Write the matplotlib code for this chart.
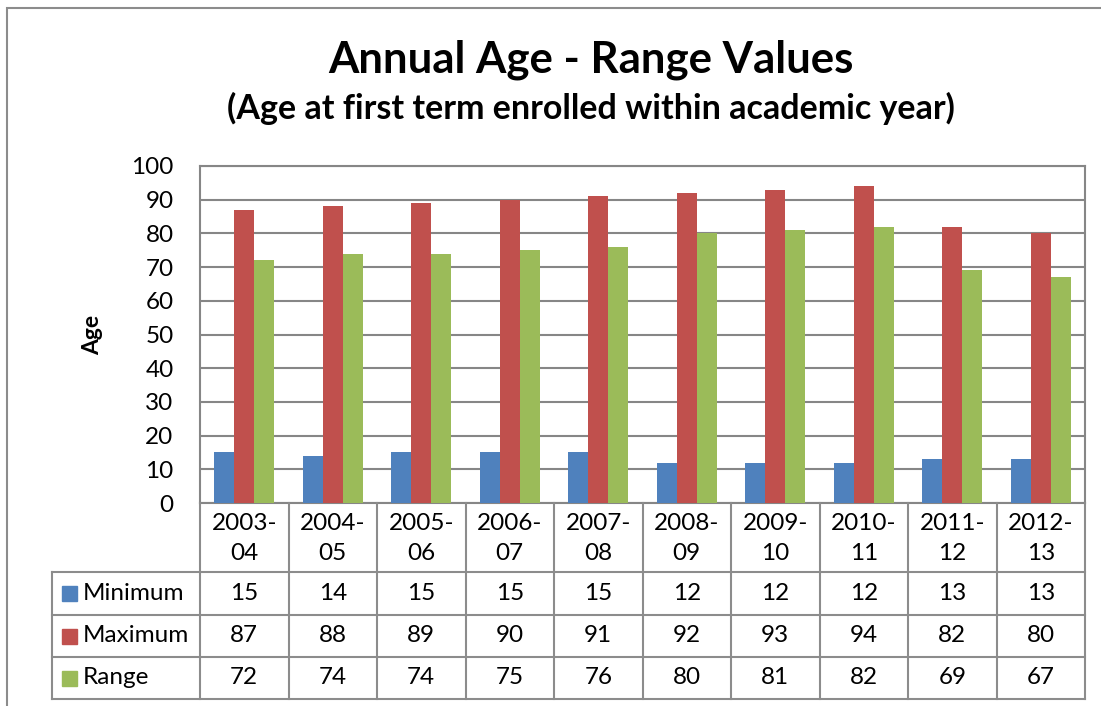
import matplotlib.pyplot as plt
from matplotlib.patches import Rectangle

# --- data ---
years = ['2003-\n04', '2004-\n05', '2005-\n06', '2006-\n07', '2007-\n08',
         '2008-\n09', '2009-\n10', '2010-\n11', '2011-\n12', '2012-\n13']
minimum = [15, 14, 15, 15, 15, 12, 12, 12, 13, 13]
maximum = [87, 88, 89, 90, 91, 92, 93, 94, 82, 80]
age_range = [72, 74, 74, 75, 76, 80, 81, 82, 69, 67]

series = [('Minimum', minimum, '#4F81BD'),
          ('Maximum', maximum, '#C0504D'),
          ('Range', age_range, '#9BBB59')]

W, H = 1101, 706
FONT = 'Lato'
GRID = '#868686'
FS = 17.5
plt.rcParams['font.family'] = [FONT, 'DejaVu Sans']

fig = plt.figure(figsize=(W / 100, H / 100), dpi=100)

def fx(px):
    return px / W

def fy(py):
    return 1 - py / H

# outer chart frame (runs off right/bottom edge)
fig.patches.append(Rectangle((fx(7), fy(720)), fx(1110), fy(8) - fy(720),
                             transform=fig.transFigure, fill=False,
                             edgecolor='#8C8C8C', linewidth=1.5))

fig.text(fx(591), fy(60), 'Annual Age - Range Values', ha='center',
         va='center', fontsize=31.5, fontweight='bold')
fig.text(fx(591), fy(108), '(Age at first term enrolled within academic year)',
         ha='center', va='center', fontsize=24.5, fontweight='bold')

# --- plot area ---
L, R, T, B = 200, 1085, 166, 503
ax = fig.add_axes([fx(L), fy(B), fx(R - L), fy(T) - fy(B)])
n = len(years)
bw = 0.225
for k, (name, vals, col) in enumerate(series):
    ax.bar([i + (k - 1) * bw for i in range(n)], vals, width=bw, color=col,
           zorder=3)
ax.set_xlim(-0.5, n - 0.5)
ax.set_ylim(0, 100)
ax.set_yticks(range(0, 101, 10))
ax.set_xticks([])
ax.tick_params(axis='y', length=0, pad=19, labelsize=FS)
ax.yaxis.grid(True, color=GRID, linewidth=1.5, zorder=0)
for s in ax.spines.values():
    s.set_color(GRID)
    s.set_linewidth(1.5)
ax.set_ylabel('Age', fontsize=16.5, fontweight='bold', labelpad=20)

# --- data table ---
TL, TB = 52, 699
tax = fig.add_axes([fx(TL), fy(TB), fx(R - TL), fy(B) - fy(TB)])
cat_px = (R - L) / n
x_left = -0.5 - (L - TL) / cat_px
tax.set_xlim(x_left, n - 0.5)
tax.set_ylim(TB - B, 0)
tax.axis('off')

rows_y = [0, 69, 112, 154, 196]
lc = '#8C8C8C'
for k in range(n + 1):
    tax.plot([k - 0.5, k - 0.5], [0, rows_y[-1]], color=lc, lw=1.5,
             clip_on=False)
tax.plot([x_left, x_left], [rows_y[1], rows_y[-1]], color=lc, lw=1.5,
         clip_on=False)
for yy in rows_y[1:]:
    tax.plot([x_left, n - 0.5], [yy, yy], color=lc, lw=1.5, clip_on=False)

for i, lab in enumerate(years):
    tax.text(i, rows_y[1] / 2 + 1, lab, ha='center', va='center',
             fontsize=FS, linespacing=1.55)

key = 15 / cat_px
for r, (name, vals, col) in enumerate(series):
    yc = (rows_y[r + 1] + rows_y[r + 2]) / 2
    x0 = x_left + 10 / cat_px
    tax.add_patch(Rectangle((x0, yc - 7.5), key, 15, color=col,
                            clip_on=False))
    tax.text(x_left + 31 / cat_px, yc, name, ha='left', va='center',
             fontsize=FS)
    for i, v in enumerate(vals):
        tax.text(i, yc, str(v), ha='center', va='center', fontsize=FS)

fig.savefig('out.png', dpi=100)
